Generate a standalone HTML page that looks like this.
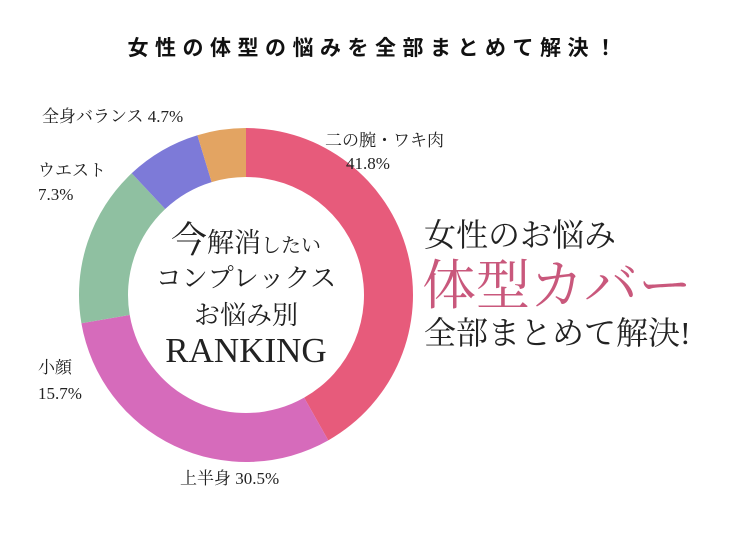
<!DOCTYPE html>
<html><head><meta charset="utf-8"><style>
body{margin:0;background:#fff;}
svg{display:block;}
.s{font-family:"Liberation Serif","Noto Serif CJK JP",serif;fill:#222;}
</style></head><body>
<svg width="750" height="534" viewBox="0 0 750 534">
<text x="375" y="55" text-anchor="middle" font-family="Liberation Sans,'Noto Sans CJK JP',sans-serif" font-weight="bold" font-size="21" letter-spacing="6.5" fill="#111">女性の体型の悩みを全部まとめて解決！</text>
<g id="donut"></g>
<g class="s">
<text x="246" y="252" text-anchor="middle" class="s"><tspan font-size="36">今</tspan><tspan font-size="27">解消</tspan><tspan font-size="20">したい</tspan></text>
<text x="246" y="287" text-anchor="middle" class="s" font-size="26">コンプレックス</text>
<text x="246" y="324" text-anchor="middle" class="s" font-size="26">お悩み別</text>
<text x="246" y="362" text-anchor="middle" class="s" font-size="35">RANKING</text>
</g>
<g class="s" font-size="17">
<text x="325" y="146" class="s">二の腕・ワキ肉</text>
<text x="346" y="169" class="s">41.8%</text>
<text x="42" y="122" class="s">全身バランス 4.7%</text>
<text x="38" y="176" class="s">ウエスト</text>
<text x="38" y="200" class="s">7.3%</text>
<text x="38" y="373" class="s">小顔</text>
<text x="38" y="399" class="s">15.7%</text>
<text x="180" y="484" class="s">上半身 30.5%</text>
</g>
<g>
<text x="424" y="246" class="s" font-size="32">女性のお悩み</text>
<text x="422" y="304" font-family="Liberation Serif,'Noto Serif CJK JP',serif" font-size="54" fill="#c9587c">体型カバー</text>
<text x="424" y="344" class="s" font-size="32">全部まとめて解決!</text>
</g>
</svg>
<script>
const categories=["二の腕・ワキ肉","上半身","小顔","ウエスト","全身バランス"];
const values=[41.8,30.5,15.7,7.3,4.7];
const colors=["#e75b7b","#d66bbb","#8fc0a1","#7d7ad8","#e3a462"];
const cx=246,cy=295,R=167,r=118;
const g=document.getElementById('donut');
const total=values.reduce((a,b)=>a+b,0);
function pt(a,rad){return [cx+rad*Math.sin(a),cy-rad*Math.cos(a)];}
let acc=0;
values.forEach((v,i)=>{
  const a0=acc/total*2*Math.PI;acc+=v;const a1=acc/total*2*Math.PI;
  const big=(a1-a0)>Math.PI?1:0;
  const [x0,y0]=pt(a0,R),[x1,y1]=pt(a1,R),[x2,y2]=pt(a1,r),[x3,y3]=pt(a0,r);
  const p=document.createElementNS('http://www.w3.org/2000/svg','path');
  p.setAttribute('d',`M${x0},${y0}A${R},${R} 0 ${big} 1 ${x1},${y1}L${x2},${y2}A${r},${r} 0 ${big} 0 ${x3},${y3}Z`);
  p.setAttribute('fill',colors[i]);
  
  
  g.appendChild(p);
});
</script>
</body></html>
